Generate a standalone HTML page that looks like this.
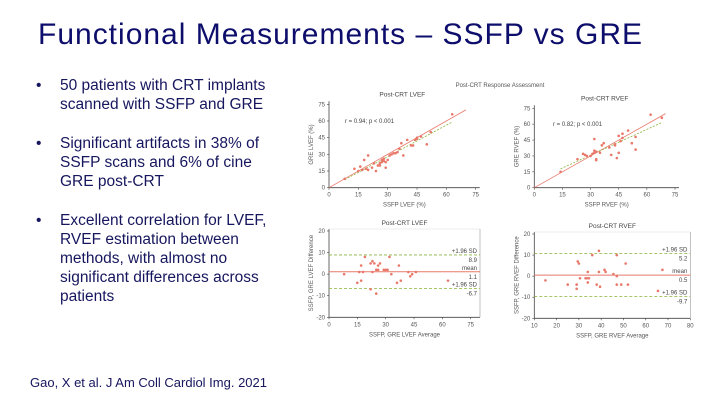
<!DOCTYPE html>
<html><head><meta charset="utf-8"><style>
body{margin:0;background:#fff;}
svg{display:block;font-family:"Liberation Sans",sans-serif;}
</style></head><body>
<svg id="s" width="720" height="405" viewBox="0 0 720 405">
<text x="38" y="44" font-size="30" fill="#0d0d6b" textLength="604">Functional Measurements – SSFP vs GRE</text>
<g font-size="15.5" fill="#16165e">
<text x="36" y="90">•</text>
<text x="60" y="90">50 patients with CRT implants</text>
<text x="60" y="109">scanned with SSFP and GRE</text>
<text x="36" y="148">•</text>
<text x="60" y="148">Significant artifacts in 38% of</text>
<text x="60" y="167">SSFP scans and 6% of cine</text>
<text x="60" y="186">GRE post-CRT</text>
<text x="36" y="225">•</text>
<text x="60" y="225">Excellent correlation for LVEF,</text>
<text x="60" y="244">RVEF estimation between</text>
<text x="60" y="263">methods, with almost no</text>
<text x="60" y="282">significant differences across</text>
<text x="60" y="301">patients</text>
</g>
<text x="30" y="387" font-size="13" fill="#16165e">Gao, X et al. J Am Coll Cardiol Img. 2021</text>
<text x="500" y="87" font-size="6" fill="#555" text-anchor="middle">Post-CRT Response Assessment</text>
<g id="charts"></g>
</svg>
<script>
// LVEF scatter
const lvX=[8,13,15,16,17,18,19,20,20,22,23,24,25,26,26,27,27,28,28,29,29,30,31,32,33,34,35,36,37,38,40,42,43,44,45,45,47,50,52,63];
const lvY=[8,17,15,19,16,25,17,29,16,18,22,15,20,22,20,23,25,26,24,18,23,25,29,30,31,31,32,35,40,29,43,38,38,43,44,45,46,39,50,66];
// RVEF scatter
const rvX=[14,23,26,27,28,30,31,32,32,32,33,33,33,35,36,37,40,41,43,43,44,45,45,46,47,47,50,52,54,54,62,68];
const rvY=[15,27,32,31,30,30,32,46,35,33,27,26,34,33,40,42,38,31,41,40,28,33,49,44,47,51,54,42,48,36,69,66];
// LVEF Bland-Altman
const lbX=[8,15,16,17,17,18,19,22,22,23,23,24,25,25,26,26,27,29,30,31,32,33,36,37,38,42,43,44,46,63];
const lbY=[0,-4,1,-3,4,1,8,-7,5,6,1,5,-9,2,2,4,5,2,2,2,8,0,-4,4,-3,1,-1,0,1,-3];
const lbLines=[8.9,1.1,-6.7];
// RVEF Bland-Altman
const rbX=[15,25,29,29,29.5,30,30.5,33,33.5,34,34,34.5,36,38,39,39,39.5,41.5,42,45.5,47,47,47,49,51,52,65.5,67.5];
const rbY=[-2,-4,-4,-6,7,6,-1,-1,-1,-3,2,-1,10,-4,12,2,-5,3,2,1,0,10,-4,-4,6,-4,-7,3];
const rbLines=[10.8,0.5,-9.7];
const scTicks=[0,15,30,45,60,75];
const baYTicks=[20,10,0,-10,-20];
const lbXTicks=[0,15,30,45,60,75];
const rbXTicks=[10,20,30,40,50,60,70,80];

const NS="http://www.w3.org/2000/svg";
const root=document.getElementById('charts');
function el(tag,attrs,parent,txt){const e=document.createElementNS(NS,tag);for(const k in attrs)e.setAttribute(k,attrs[k]);if(txt!==undefined)e.textContent=txt;(parent||root).appendChild(e);return e;}
function lin(d0,d1,r0,r1){return v=>r0+(v-d0)/(d1-d0)*(r1-r0);}
const RED="#e8786a",GRN="#8ab43c",AX="#444",TX="#555";

function axes(g,sx,sy,xt,yt,x0,x1,y0,y1,xl,yl){
  el('line',{x1:x0,y1:y0,x2:x0,y2:y1,stroke:AX,'stroke-width':0.8},g);
  el('line',{x1:x0,y1:y0,x2:x1,y2:y0,stroke:AX,'stroke-width':0.8},g);
  xt.forEach(t=>{el('line',{x1:sx(t),y1:y0,x2:sx(t),y2:y0+2,stroke:AX,'stroke-width':0.6},g);
    el('text',{x:sx(t),y:y0+9,'font-size':6,fill:TX,'text-anchor':'middle'},g,t);});
  yt.forEach(t=>{el('line',{x1:x0-2,y1:sy(t),x2:x0,y2:sy(t),stroke:AX,'stroke-width':0.6},g);
    el('text',{x:x0-4,y:sy(t)+2,'font-size':6,fill:TX,'text-anchor':'end'},g,t);});
  el('text',{x:(x0+x1)/2,y:y0+19,'font-size':6,fill:TX,'text-anchor':'middle'},g,xl);
  el('text',{x:0,y:0,'font-size':6,fill:TX,'text-anchor':'middle',transform:`translate(${x0-16},${(y0+y1)/2}) rotate(-90)`},g,yl);
}
function pts(g,xs,ys,sx,sy,name){
  xs.forEach((x,i)=>{const c=el('circle',{cx:sx(x),cy:sy(ys[i]),r:1.3,fill:RED},g);
    
    });
}
function fit(xs,ys){const n=xs.length;let mx=0,my=0;xs.forEach((x,i)=>{mx+=x;my+=ys[i];});mx/=n;my/=n;let sxy=0,sxx=0;xs.forEach((x,i)=>{sxy+=(x-mx)*(ys[i]-my);sxx+=(x-mx)**2;});const b=sxy/sxx;return [b,my-b*mx];}

function scatter(name,xs,ys,x0,x1,y0,ytop,title,tx,xl,yl,r){
  const g=el('g',{});
  const sx=lin(0,75,x0,x1),sy=lin(0,75,y0,ytop);
  el('text',{x:(x0+x1)/2,y:ytop-8,'font-size':6.5,fill:'#444','text-anchor':'middle'},g,title);
  axes(g,sx,sy,scTicks,scTicks,x0,x1+4,y0,ytop-3,xl,yl);
  el('line',{x1:sx(0),y1:sy(0),x2:sx(70),y2:sy(70),stroke:RED,'stroke-width':0.8},g);
  const [b,a]=fit(xs,ys);const mn=Math.min(...xs),mxv=Math.max(...xs);
  el('line',{x1:sx(mn),y1:sy(a+b*mn),x2:sx(mxv),y2:sy(a+b*mxv),stroke:GRN,'stroke-width':0.8,'stroke-dasharray':'2,1.5'},g);
  pts(g,xs,ys,sx,sy,'data-point');
  el('text',{x:tx,y:sy(60)+2,'font-size':6,fill:'#444'},g,r);
}
scatter('lvef-scatter',lvX,lvY,329,475.7,187.7,104.3,'Post-CRT LVEF',345,'SSFP LVEF (%)','GRE LVEF (%)','r = 0.94; p < 0.001');
scatter('rvef-scatter',rvX,rvY,534.3,675,187.7,108.3,'Post-CRT RVEF',553,'SSFP RVEF (%)','GRE RVEF (%)','r = 0.82; p < 0.001');

function ba(name,xs,ys,lines,xd0,xd1,xt,x0,x1,xr,y20,ym20,title,xl,yl,labels){
  const g=el('g',{});
  const sx=lin(xd0,xd1,x0,x1),sy=lin(20,-20,y20,ym20);
  el('text',{x:(x0+xr)/2,y:y20-6,'font-size':6.5,fill:'#444','text-anchor':'middle'},g,title);
  axes(g,sx,sy,xt,baYTicks,x0,xr,ym20,y20-2,xl,yl);
  el('line',{x1:xr,y1:ym20,x2:xr,y2:y20-2,stroke:'#999','stroke-width':0.6},g);
  el('line',{x1:x0,y1:y20-2,x2:xr,y2:y20-2,stroke:'#ddd','stroke-width':0.6},g);
  lines.forEach((v,i)=>{
    el('line',{x1:x0,y1:sy(v),x2:xr,y2:sy(v),stroke:i==1?RED:GRN,'stroke-width':i==1?1:0.8,'stroke-dasharray':i==1?'none':'3,2'},g);
    el('text',{x:xr-3,y:sy(v)-2,'font-size':6,fill:'#444','text-anchor':'end'},g,labels[i]);
    el('text',{x:xr-3,y:sy(v)+7,'font-size':6,fill:'#444','text-anchor':'end'},g,labels[i+3]);
  });
  pts(g,xs,ys,sx,sy,'data-point');
}
ba('lvef-bland-altman',lbX,lbY,lbLines,0,75,lbXTicks,329,470.7,480,231,317.3,'Post-CRT LVEF','SSFP, GRE LVEF Average','SSFP, GRE LVEF Difference',['+1.96 SD','mean','+1.96 SD','8.9','1.1','-6.7']);
ba('rvef-bland-altman',rbX,rbY,rbLines,10,80,rbXTicks,534.3,690.3,690.3,234,318.3,'Post-CRT RVEF','SSFP, GRE RVEF Average','SSFP, GRE RVEF Difference',['+1.96 SD','mean','+1.96 SD','5.2','0.5','-9.7']);
</script>
</body></html>
